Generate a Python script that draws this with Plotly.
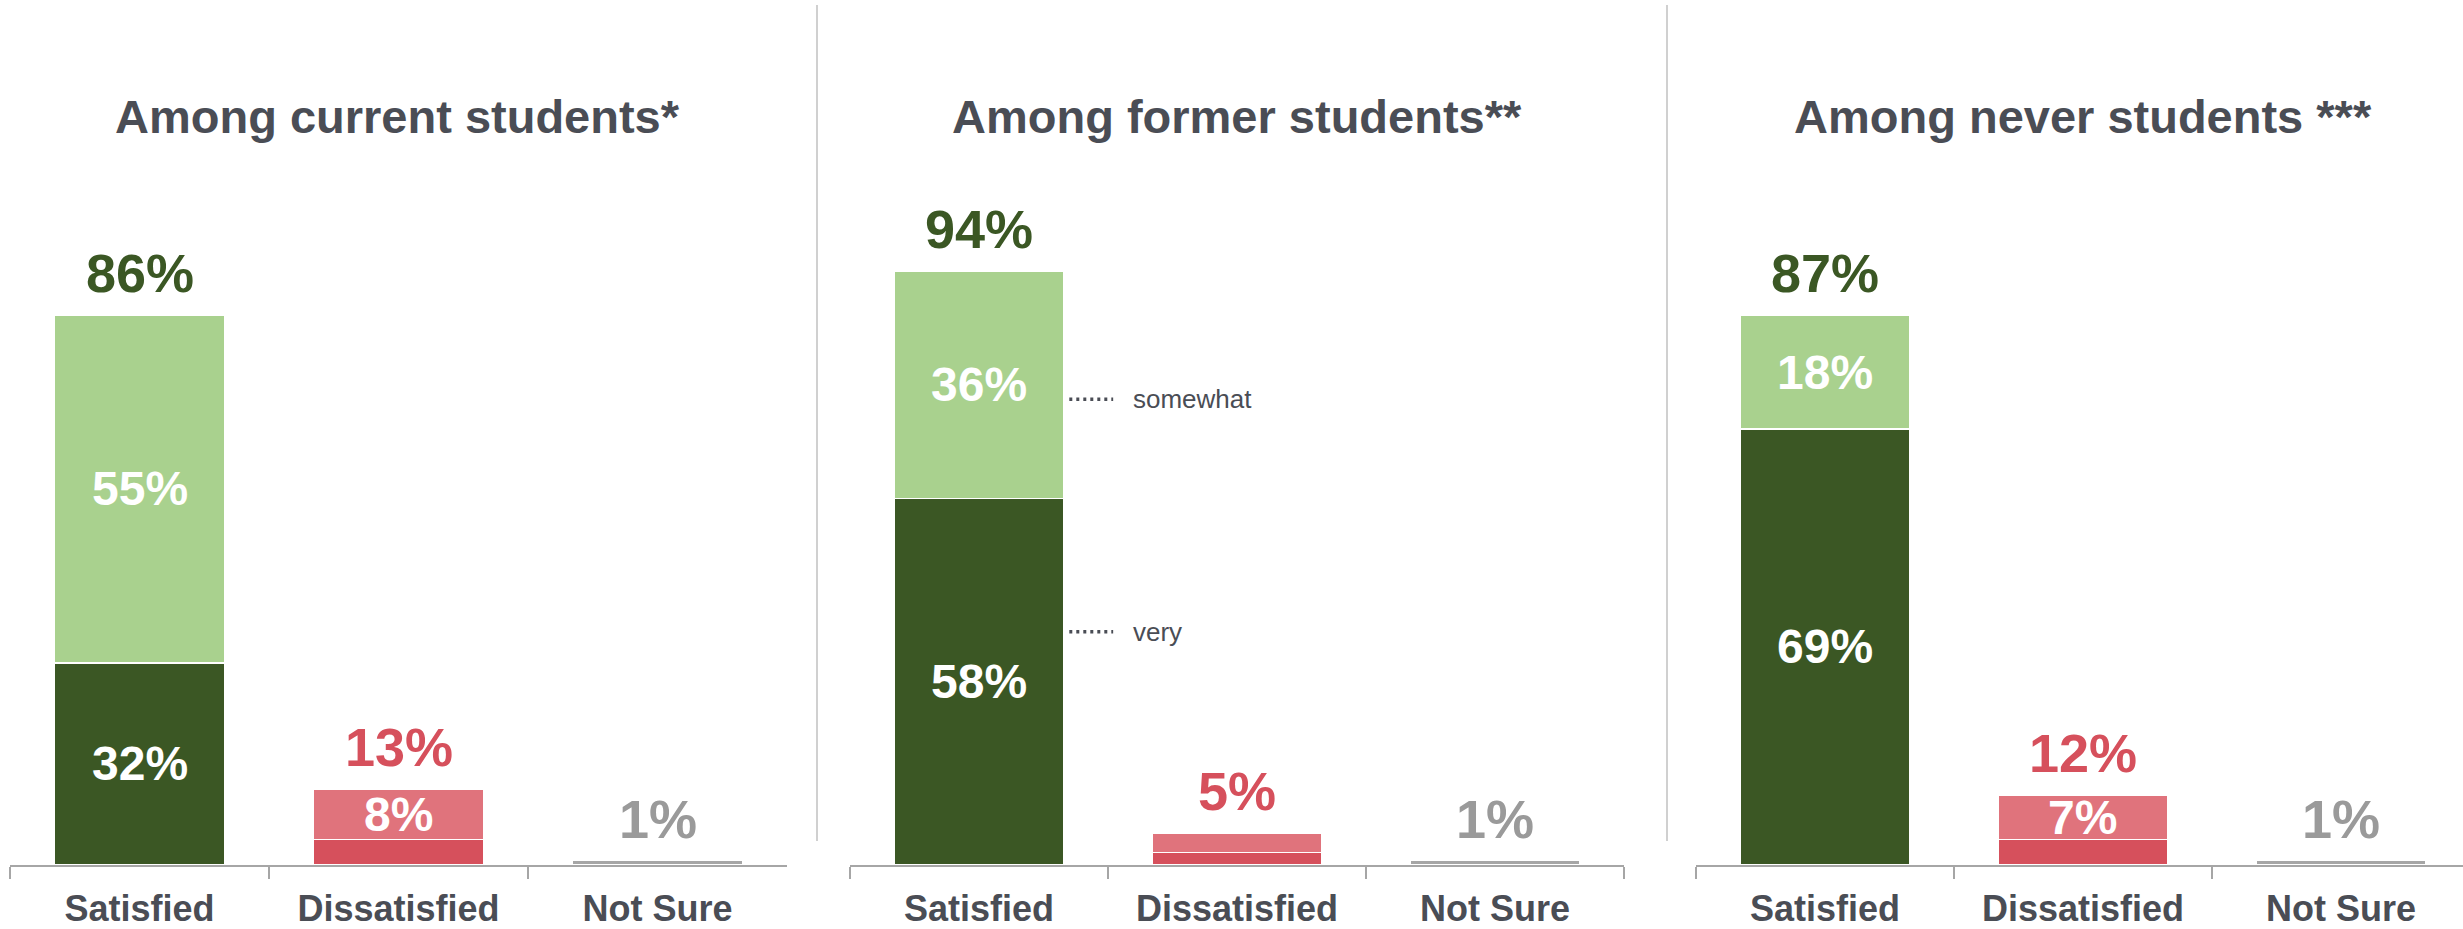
import plotly.graph_objects as go

# ---------------- data ----------------
categories = ["Satisfied", "Dissatisfied", "Not Sure"]
panel_titles = ["Among current students*", "Among former students**", "Among never students ***"]

# bottom segment ("very") and top segment ("somewhat") per panel
very_current = [32, 4, 0.7]
somewhat_current = [55, 8, 0]
very_former = [58, 2, 0.7]
somewhat_former = [36, 3, 0]
very_never = [69, 4, 0.7]
somewhat_never = [18, 7, 0]

# labels shown on the chart
total_labels_current = ["86%", "13%", "1%"]
total_labels_former = ["94%", "5%", "1%"]
total_labels_never = ["87%", "12%", "1%"]
very_labels_current = ["32%", "", ""]
very_labels_former = ["58%", "", ""]
very_labels_never = ["69%", "", ""]
somewhat_labels_current = ["55%", "8%", ""]
somewhat_labels_former = ["36%", "", ""]
somewhat_labels_never = ["18%", "7%", ""]

very_series = [very_current, very_former, very_never]
somewhat_series = [somewhat_current, somewhat_former, somewhat_never]
total_labels = [total_labels_current, total_labels_former, total_labels_never]
very_labels = [very_labels_current, very_labels_former, very_labels_never]
somewhat_labels = [somewhat_labels_current, somewhat_labels_former, somewhat_labels_never]

# ---------------- style ----------------
W, H = 2463, 929
FONT = "Liberation Sans, Arial, sans-serif"
TITLE_COLOR = "#4a4d55"
very_colors = ["#3b5724", "#d6505c", "#a6a6a6"]
somewhat_colors = ["#a9d18e", "#e0737c", "#a6a6a6"]
total_colors = ["#3b5724", "#d6505c", "#9a9a9a"]

base_px = 865
top_px = 233
ydom = [(H - base_px) / H, (H - top_px) / H]
xdoms = [[10 / W, 787 / W], [850 / W, 1624 / W], [1696 / W, 1.0]]
xranges = [[-0.5, 2.5], [-0.5, 2.5], [-0.5, 2.473]]

fig = go.Figure()

annotations = []
for p in range(3):
    xa = "x" if p == 0 else f"x{p+1}"
    ya = "y" if p == 0 else f"y{p+1}"
    fig.add_trace(go.Bar(
        x=categories, y=very_series[p], xaxis=xa, yaxis=ya,
        marker=dict(color=very_colors, line=dict(color="white", width=1.5)),
        width=0.66, showlegend=False, hoverinfo="skip"))
    fig.add_trace(go.Bar(
        x=categories, y=somewhat_series[p], xaxis=xa, yaxis=ya,
        marker=dict(color=somewhat_colors, line=dict(color="white", width=1.5)),
        width=0.66, showlegend=False, hoverinfo="skip"))
    for i, c in enumerate(categories):
        v = very_series[p][i]
        s = somewhat_series[p][i]
        annotations.append(dict(
            x=c, y=v + s, xref=xa, yref=ya, text=total_labels[p][i],
            showarrow=False, yanchor="middle", yshift=42,
            font=dict(family=FONT, size=54, color=total_colors[i], weight="bold")))
        if very_labels[p][i]:
            annotations.append(dict(
                x=c, y=v / 2, xref=xa, yref=ya, text=very_labels[p][i],
                showarrow=False, yanchor="middle",
                font=dict(family=FONT, size=48, color="white", weight="bold")))
        if somewhat_labels[p][i]:
            annotations.append(dict(
                x=c, y=v + s / 2, xref=xa, yref=ya, text=somewhat_labels[p][i],
                showarrow=False, yanchor="middle",
                font=dict(family=FONT, size=48, color="white", weight="bold")))
    # panel title
    cx = (xdoms[p][0] + (xdoms[p][0] + 774 / W)) / 2
    annotations.append(dict(
        x=cx, y=1 - 116 / H, xref="paper", yref="paper", text=panel_titles[p],
        showarrow=False, xanchor="center", yanchor="middle",
        font=dict(family=FONT, size=47, color=TITLE_COLOR, weight="bold")))

# leader-line labels in the middle panel
legend_keys = ["somewhat", "very"]
legend_y = [73.7, 36.9]
for key, yv in zip(legend_keys, legend_y):
    fig.add_shape(type="line", xref="x2", yref="y2", x0=0.35, x1=0.52, y0=yv, y1=yv,
                  line=dict(color="#4a4d55", width=3.5, dash="3px,4px"))
    annotations.append(dict(
        x=0.59, y=yv, xref="x2", yref="y2", text=key, showarrow=False,
        xanchor="left", yanchor="middle",
        font=dict(family=FONT, size=26, color="#4a4d55")))

# vertical dividers
for xp in [817, 1667]:
    fig.add_shape(type="line", xref="paper", yref="paper",
                  x0=xp / W, x1=xp / W, y0=1 - 841 / H, y1=1 - 5 / H,
                  line=dict(color="#d0d0d0", width=2))

layout_axes = {}
for p in range(3):
    xk = "xaxis" if p == 0 else f"xaxis{p+1}"
    yk = "yaxis" if p == 0 else f"yaxis{p+1}"
    layout_axes[xk] = dict(
        domain=xdoms[p], range=xranges[p], type="category",
        anchor="y" if p == 0 else f"y{p+1}",
        showline=True, linecolor="#a6a6a6", linewidth=2,
        ticks="outside", tickson="boundaries", ticklen=12, tickwidth=2, tickcolor="#a6a6a6",
        ticklabelstandoff=11,
        showgrid=False, zeroline=False, fixedrange=True,
        tickfont=dict(family=FONT, size=36, color=TITLE_COLOR, weight="bold"))
    layout_axes[yk] = dict(
        domain=ydom, range=[0, 100], anchor="x" if p == 0 else f"x{p+1}",
        showgrid=False, zeroline=False, showticklabels=False, showline=False,
        fixedrange=True)

fig.update_layout(
    width=W, height=H, margin=dict(l=0, r=0, t=0, b=0),
    paper_bgcolor="white", plot_bgcolor="white",
    barmode="stack", bargap=0.34,
    annotations=annotations, **layout_axes)

fig.write_html("out.html", config={"displayModeBar": False},
               post_script="document.body.style.margin='0';document.body.style.overflow='hidden';")
